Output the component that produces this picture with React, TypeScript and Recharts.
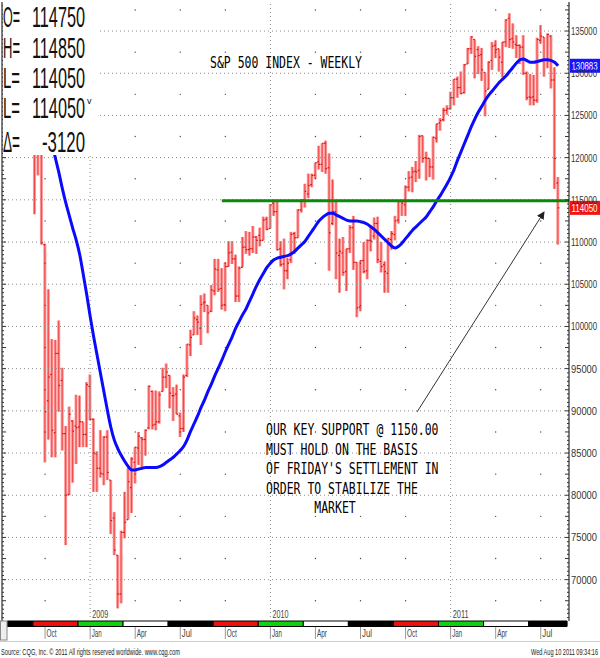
import React from "react";
import {
  ComposedChart,
  Bar,
  Line,
  XAxis,
  YAxis,
  ReferenceLine,
  ReferenceArea,
  ReferenceDot,
} from "recharts";

// weekly bars, week 0 = week of Sep 15 2008 (index points)
const opens = [
  1251, 1255, 1210, 1097, 912, 943, 874, 968, 936, 873,
  801, 888, 882, 881, 887, 872, 929, 890, 849, 832,
  825, 869, 818, 773, 729, 683, 756, 771, 809, 839,
  856, 868, 866, 880, 923, 884, 887, 923, 940, 942,
  918, 920, 894, 879, 942, 978, 990, 1008, 998, 1028,
  1025, 1018, 1042, 1067, 1045, 1026, 1071, 1088, 1080, 1036,
  1070, 1094, 1091, 1092, 1106, 1108, 1102, 1127, 1116, 1146,
  1136, 1092, 1074, 1066, 1079, 1110, 1105, 1138, 1150, 1157,
  1168, 1179, 1195, 1192, 1217, 1188, 1122, 1136, 1084, 1087,
  1065, 1092, 1117, 1076, 1023, 1078, 1066, 1102, 1107, 1122,
  1077, 1073, 1063, 1103, 1109, 1126, 1148, 1144, 1165, 1177,
  1184, 1185, 1226, 1200, 1199, 1189, 1223, 1241, 1245, 1256,
  1258, 1271, 1293, 1283, 1277, 1311, 1329, 1340, 1328, 1322,
  1301, 1281, 1315, 1333, 1329, 1313, 1337, 1365, 1341, 1334,
  1333, 1331, 1300, 1272, 1272, 1268, 1339, 1343, 1316, 1344,
  1292, 1170,
];
const highs = [
  1265, 1256, 1215, 1098, 1044, 985, 984, 1007, 951, 882,
  905, 889, 919, 918, 887, 934, 943, 891, 852, 877,
  870, 877, 818, 780, 729, 758, 804, 832, 845, 857,
  875, 869, 878, 930, 924, 924, 923, 951, 956, 942,
  928, 931, 898, 943, 979, 996, 1018, 1013, 1037, 1039,
  1025, 1049, 1080, 1080, 1069, 1076, 1101, 1101, 1085, 1071,
  1106, 1113, 1112, 1119, 1107, 1117, 1130, 1130, 1145, 1150,
  1150, 1101, 1104, 1081, 1112, 1112, 1139, 1150, 1169, 1181,
  1181, 1194, 1214, 1217, 1220, 1205, 1174, 1148, 1104, 1106,
  1092, 1120, 1131, 1076, 1078, 1100, 1103, 1120, 1129, 1130,
  1100, 1077, 1105, 1113, 1131, 1148, 1150, 1167, 1184, 1189,
  1196, 1227, 1226, 1207, 1199, 1225, 1240, 1247, 1259, 1262,
  1278, 1293, 1296, 1302, 1311, 1330, 1344, 1340, 1332, 1330,
  1301, 1314, 1337, 1339, 1329, 1337, 1364, 1371, 1359, 1345,
  1334, 1345, 1302, 1299, 1298, 1342, 1357, 1343, 1347, 1345,
  1307, 1177,
];
const lows = [
  1133, 1179, 1097, 839, 866, 845, 845, 899, 853, 741,
  800, 815, 837, 857, 857, 857, 889, 804, 804, 821,
  812, 818, 754, 729, 666, 672, 749, 771, 779, 814,
  836, 831, 847, 878, 878, 877, 885, 923, 927, 903,
  888, 896, 869, 875, 940, 965, 990, 990, 978, 1017,
  992, 1017, 1037, 1041, 1020, 1018, 1071, 1074, 1029, 1029,
  1070, 1086, 1084, 1087, 1086, 1095, 1102, 1114, 1116, 1131,
  1090, 1071, 1044, 1056, 1075, 1086, 1105, 1135, 1141, 1152,
  1165, 1175, 1186, 1183, 1181, 1066, 1120, 1056, 1040, 1060,
  1042, 1087, 1067, 1011, 1018, 1063, 1056, 1089, 1103, 1075,
  1064, 1040, 1040, 1091, 1102, 1122, 1131, 1131, 1160, 1159,
  1171, 1175, 1194, 1173, 1177, 1174, 1218, 1232, 1243, 1251,
  1257, 1262, 1271, 1275, 1276, 1311, 1323, 1294, 1299, 1291,
  1249, 1281, 1304, 1318, 1302, 1295, 1331, 1330, 1329, 1318,
  1311, 1298, 1268, 1262, 1262, 1265, 1335, 1296, 1306, 1282,
  1163, 1097,
];
const closes = [
  1255, 1213, 1099, 899, 940, 877, 968, 930, 873, 800,
  896, 876, 880, 887, 872, 931, 890, 850, 832, 826,
  869, 827, 770, 735, 683, 756, 768, 816, 843, 857,
  870, 866, 877, 929, 883, 887, 919, 940, 946, 921,
  918, 896, 879, 940, 979, 987, 1010, 1005, 1026, 1029,
  1016, 1043, 1068, 1044, 1025, 1071, 1087, 1080, 1036, 1069,
  1094, 1091, 1092, 1106, 1102, 1102, 1126, 1115, 1144, 1136,
  1091, 1073, 1066, 1075, 1109, 1105, 1138, 1150, 1160, 1167,
  1179, 1194, 1192, 1217, 1187, 1111, 1136, 1087, 1089, 1064,
  1092, 1117, 1076, 1022, 1078, 1065, 1102, 1101, 1122, 1079,
  1071, 1065, 1104, 1110, 1125, 1148, 1146, 1165, 1176, 1183,
  1183, 1225, 1199, 1199, 1189, 1224, 1240, 1244, 1256, 1258,
  1271, 1293, 1283, 1276, 1310, 1329, 1343, 1320, 1321, 1304,
  1279, 1313, 1332, 1328, 1319, 1337, 1363, 1340, 1337, 1333,
  1331, 1300, 1271, 1271, 1268, 1340, 1344, 1316, 1346, 1292,
  1199, 1140.5,
];
// blue average line
const avgLine = [
  1290, 1278, 1264, 1250, 1234, 1217, 1199, 1182, 1163, 1146,
  1131, 1116, 1102, 1085, 1062, 1038, 1012, 988, 966, 944,
  922, 900, 880, 865, 855, 847, 840, 834, 830, 830,
  831, 832, 833, 833, 833, 833, 834, 836, 839, 842,
  845, 849, 853, 858, 866, 876, 885, 894, 904, 913,
  923, 932, 942, 951, 960, 970, 979, 988, 998, 1006,
  1014, 1021, 1030, 1039, 1048, 1056, 1063, 1070, 1075, 1079,
  1081, 1082, 1083, 1084, 1086, 1089, 1093, 1097, 1101, 1107,
  1113, 1119, 1125, 1129, 1132, 1134, 1134, 1132, 1130, 1128,
  1126, 1125, 1125, 1125, 1124, 1123, 1121, 1118, 1115, 1111,
  1107, 1103, 1099, 1095, 1093, 1095, 1099, 1104, 1109, 1114,
  1118, 1122, 1126, 1130, 1136, 1142, 1149, 1155, 1162, 1169,
  1177, 1186, 1197, 1207, 1217, 1227, 1237, 1246, 1254, 1261,
  1268, 1274, 1279, 1284, 1289, 1293, 1297, 1302, 1307, 1312,
  1316, 1317, 1315, 1313, 1313, 1314, 1315, 1316, 1316, 1315,
  1313, 1308.83,
];

const priceTicks = [700, 750, 800, 850, 900, 950, 1000, 1050, 1100, 1150, 1200, 1250, 1300, 1350];
const monthTicks = [3, 16, 29, 42, 55, 68, 81, 94, 107, 120, 133, 146];
const monthLabels = ["Oct", "Jan", "Apr", "Jul", "Oct", "Jan", "Apr", "Jul", "Oct", "Jan", "Apr", "Jul"];
const yearWeeks = [16, 68, 120];
const yearLabels = ["2009", "2010", "2011"];
const stripEdges = [-7.9, -0.5, 12.5, 25.5, 38.5, 51.5, 64.5, 77.5, 90.5, 103.5, 116.5, 129.5, 142.5, 153.6];
const stripColors = ["#000", "#f01010", "#10d010", "#fff", "#000", "#f01010", "#10d010", "#fff", "#000", "#f01010", "#10d010", "#fff", "#000"];
const supportLevel = 1149;
const supportFrom = 54;

const noteLines = [
  "OUR KEY SUPPORT @ 1150.00",
  "MUST HOLD ON THE BASIS",
  "OF FRIDAY'S SETTLEMENT IN",
  "ORDER TO STABILIZE THE",
  "       MARKET",
];
const quoteRows = [
  { k: "O=", v: "114750" },
  { k: "H=", v: "114850" },
  { k: "L=", v: "114050" },
  { k: "L=", v: "114050" },
  { k: "\u0394=", v: "-3120" },
];

const X_MIN = -9.43;
const X_MAX = 154.15;
const Y_MIN = 651;
const Y_MAX = 1384.4;
const PLOT_LEFT = 2;
const PLOT_RIGHT = 569;

const data = opens.map((o, i) => ({
  week: i,
  open: o,
  high: highs[i],
  low: lows[i],
  close: closes[i],
  range: [lows[i], highs[i]],
  avg: avgLine[i],
}));

// minor ticks on the price scale, every 5 points
const minorTicks: number[] = [];
for (let v = 655; v <= 1380; v += 5) minorTicks.push(v);

const midLevels = priceTicks.map((v) => v - 25).concat([1375]);
const quarterMarks = monthTicks.filter((w) => !yearWeeks.includes(w));

const OhlcBar = (props: any) => {
  const { x, y, width, height, payload } = props;
  if (!payload) return null;
  const top = Math.min(y, y + height);
  const h = Math.abs(height);
  const span = payload.high - payload.low || 1;
  const yOf = (v: number) => top + ((payload.high - v) / span) * h;
  const cx = x + width / 2;
  return (
    <g>
      <rect x={cx - 1.5} y={top} width={3} height={Math.max(h, 1)} fill="#ff9494" />
      <rect x={cx - 0.5} y={top} width={1} height={Math.max(h, 1)} fill="#f24848" />
      <rect x={cx - 1.5} y={yOf(payload.open) - 0.6} width={1.5} height={1.2} fill="#cc1010" />
      <rect x={cx} y={yOf(payload.close) - 0.6} width={1.5} height={1.2} fill="#cc1010" />
    </g>
  );
};

const PriceTick = (props: any) => {
  const { y, payload } = props;
  const v = payload.value;
  const len = v % 25 === 0 ? 4 : 2;
  return (
    <g>
      <line x1={PLOT_RIGHT - len} x2={PLOT_RIGHT} y1={y} y2={y} stroke="#333" />
      <line x1={PLOT_LEFT} x2={PLOT_LEFT + len} y1={y} y2={y} stroke="#333" />
      {v % 50 === 0 && (
        <text
          x={571}
          y={y + 4}
          fontSize={11}
          fontFamily="Liberation Sans, Arial, sans-serif"
          fill="#333"
          textLength={26}
          lengthAdjust="spacingAndGlyphs"
        >
          {v * 100}
        </text>
      )}
    </g>
  );
};

const MonthTick = (props: any) => {
  const { x, payload } = props;
  const i = monthTicks.indexOf(payload.value);
  return (
    <g>
      <line x1={x} x2={x} y1={627} y2={639} stroke="#999" />
      <text
        x={x + 1.5}
        y={637}
        fontSize={10}
        fontFamily="Liberation Sans, Arial, sans-serif"
        fill="#444"
        textLength={10}
        lengthAdjust="spacingAndGlyphs"
      >
        {monthLabels[i]}
      </text>
    </g>
  );
};

const valueBox = (color: string, text: string) => (p: any) => (
  <g>
    <rect x={p.cx + 1} y={p.cy - 7} width={30} height={14} fill={color} />
    <text
      x={p.cx + 2.5}
      y={p.cy + 4}
      fontSize={10}
      fontFamily="Liberation Sans, Arial, sans-serif"
      fill="#fff"
      textLength={26}
      lengthAdjust="spacingAndGlyphs"
    >
      {text}
    </text>
  </g>
);

const mono = "DejaVu Sans Mono, Liberation Mono, monospace";

export default function App() {
  const lastAvg = avgLine[avgLine.length - 1];
  const lastClose = closes[closes.length - 1];
  return (
    <div style={{ position: "absolute", left: 0, top: 0, width: 600, height: 658, background: "#fff" }}>
      <ComposedChart
        width={600}
        height={658}
        data={data}
        margin={{ top: 2, right: 0, bottom: 0, left: PLOT_LEFT }}
      >
        <XAxis
          dataKey="week"
          type="number"
          domain={[X_MIN, X_MAX]}
          allowDataOverflow
          ticks={monthTicks}
          interval={0}
          height={37}
          axisLine={false}
          tickLine={false}
          tick={(p: any) => <MonthTick {...p} />}
        />
        <YAxis
          orientation="right"
          type="number"
          domain={[Y_MIN, Y_MAX]}
          allowDataOverflow
          ticks={minorTicks}
          interval={0}
          width={31}
          axisLine={{ stroke: "#000" }}
          tickLine={false}
          tick={(p: any) => <PriceTick {...p} />}
        />
        {priceTicks.map((v) => (
          <ReferenceLine key={"h" + v} y={v} stroke="#8c8c8c" strokeDasharray="1 3" />
        ))}
        {yearWeeks.map((w, i) => (
          <ReferenceLine
            key={"y" + w}
            x={w}
            stroke="#8c8c8c"
            strokeDasharray="1 3"
            label={(lp: any) => (
              <text
                x={lp.viewBox.x + 2}
                y={lp.viewBox.y + lp.viewBox.height - 3}
                fontSize={10}
                fontFamily="Liberation Sans, Arial, sans-serif"
                fill="#444"
                textLength={16}
                lengthAdjust="spacingAndGlyphs"
              >
                {yearLabels[i]}
              </text>
            )}
          />
        ))}
        {quarterMarks.map((w) =>
          midLevels.map((v) => (
            <ReferenceDot key={"d" + w + "-" + v} x={w} y={v} r={0.7} fill="#444" stroke="none" />
          ))
        )}
        <ReferenceLine x={X_MIN} stroke="#000" />
        {stripColors.map((c, i) => (
          <ReferenceArea
            key={"s" + i}
            x1={stripEdges[i]}
            x2={stripEdges[i + 1]}
            y1={644.5}
            y2={Y_MIN}
            fill={c}
            fillOpacity={1}
            stroke="#000"
            strokeWidth={1}
            ifOverflow="visible"
          />
        ))}
        <Bar dataKey="range" barSize={3} shape={<OhlcBar />} isAnimationActive={false} />
        <Line
          dataKey="avg"
          type="monotone"
          stroke="#0a0aff"
          strokeWidth={3}
          dot={false}
          isAnimationActive={false}
        />
        <ReferenceLine
          segment={[
            { x: supportFrom, y: supportLevel },
            { x: X_MAX, y: supportLevel },
          ]}
          stroke="#0a8a0a"
          strokeWidth={3}
        />
        <ReferenceDot
          x={X_MAX}
          y={lastAvg}
          ifOverflow="visible"
          shape={valueBox("#1414ff", String(Math.round(lastAvg * 100)))}
        />
        <ReferenceDot
          x={X_MAX}
          y={lastClose}
          ifOverflow="visible"
          shape={valueBox("#f01414", String(Math.round(lastClose * 100)))}
        />
      </ComposedChart>

      <svg
        width={600}
        height={658}
        style={{ position: "absolute", left: 0, top: 0, pointerEvents: "none" }}
      >
        <defs>
          <marker id="head" markerWidth="8" markerHeight="8" refX="7" refY="4" orient="auto">
            <path d="M0,0 L8,4 L0,8 Z" fill="#222" />
          </marker>
        </defs>
        {/* quote box */}
        <rect x={3} y={0} width={94} height={155} fill="#fff" />
        {quoteRows.map((r, i) => {
          const base = [27, 58, 88, 118, 152][i];
          return (
            <g key={"q" + i} fontFamily="Liberation Sans, Arial, sans-serif" fontSize={29} fill="#111">
              <text x={3} y={base} textLength={17} lengthAdjust="spacingAndGlyphs">
                {r.k}
              </text>
              <text
                x={85 - (r.v.length === 6 ? 53 : 43)}
                y={base}
                textLength={r.v.length === 6 ? 53 : 43}
                lengthAdjust="spacingAndGlyphs"
              >
                {r.v}
              </text>
            </g>
          );
        })}
        <text x={87} y={104} fontSize={9} fontFamily="Liberation Sans, Arial, sans-serif" fill="#111">
          v
        </text>

        <text x={210} y={68} fontFamily={mono} fontSize={16} fill="#000" textLength={152} lengthAdjust="spacingAndGlyphs">
          S&amp;P 500 INDEX - WEEKLY
        </text>

        {noteLines.map((t, i) => {
          const lead = t.length - t.trimStart().length;
          const body = t.trim();
          return (
            <text
              key={"n" + i}
              x={266 + lead * 6.9}
              y={435 + i * 19.5}
              fontFamily={mono}
              fontSize={16.5}
              fill="#000"
              textLength={body.length * 6.9}
              lengthAdjust="spacingAndGlyphs"
            >
              {body}
            </text>
          );
        })}

        <line x1={417} y1={412} x2={544} y2={212} stroke="#333" strokeWidth={1} markerEnd="url(#head)" />

        <rect x={0.5} y={621} width={6.5} height={19} fill="#eee" stroke="#888" />
        <line x1={0} x2={600} y1={641.5} y2={641.5} stroke="#ccc" />
        <text x={1} y={655} fontSize={9} fontFamily="Liberation Sans, Arial, sans-serif" fill="#222" textLength={179} lengthAdjust="spacingAndGlyphs">
          Source: CQG, Inc. © 2011 All rights reserved worldwide. www.cqg.com
        </text>
        <text x={531} y={655} fontSize={9} fontFamily="Liberation Sans, Arial, sans-serif" fill="#222" textLength={67} lengthAdjust="spacingAndGlyphs">
          Wed Aug 10 2011 09:34:16
        </text>
      </svg>
    </div>
  );
}
